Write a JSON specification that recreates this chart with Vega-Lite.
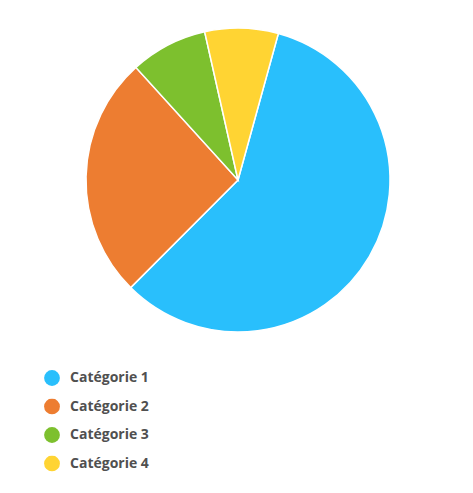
{
  "$schema": "https://vega.github.io/schema/vega-lite/v6.json",
  "width": 476,
  "height": 360,
  "padding": {"top": 0, "left": 0, "right": 0, "bottom": 133},
  "autosize": {"type": "none"},
  "background": "white",
  "view": {"stroke": null},
  "data": {
    "values": [
      {"category": "Catégorie 1", "value": 58.2},
      {"category": "Catégorie 2", "value": 25.8},
      {"category": "Catégorie 3", "value": 8.2},
      {"category": "Catégorie 4", "value": 7.8}
    ]
  },
  "mark": {"type": "arc", "outerRadius": 152, "stroke": "white", "strokeWidth": 1.5},
  "encoding": {
    "theta": {
      "field": "value",
      "type": "quantitative",
      "stack": true,
      "scale": {"range": [0.2688, 6.552]}
    },
    "color": {
      "field": "category",
      "type": "nominal",
      "scale": {
        "domain": ["Catégorie 1", "Catégorie 2", "Catégorie 3", "Catégorie 4"],
        "range": ["#29BFFC", "#ED7D31", "#7DC02E", "#FFD433"]
      },
      "legend": {
        "title": null,
        "orient": "none",
        "legendX": 44,
        "legendY": 370,
        "padding": 0,
        "symbolType": "circle",
        "symbolSize": 250,
        "symbolStrokeWidth": 0,
        "labelFont": "Open Sans",
        "labelFontWeight": "bold",
        "labelFontSize": 14,
        "labelColor": "#505050",
        "labelOffset": 10,
        "clipHeight": 16,
        "rowPadding": 12.5
      }
    }
  }
}
